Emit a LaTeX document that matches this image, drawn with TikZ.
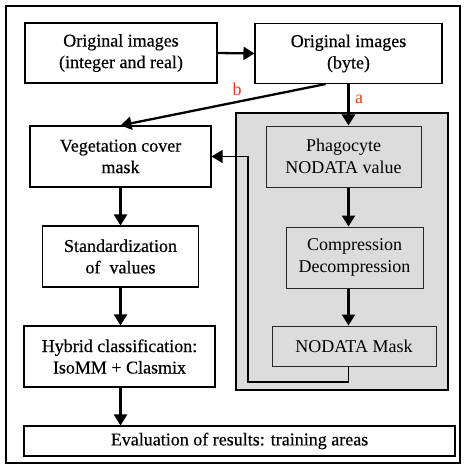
\documentclass[tikz,border=0pt]{standalone}
\usepackage{fontspec}
\setmainfont{Liberation Serif}
\newfontfamily\heavyserif{Liberation Serif}[FakeBold=0.4]
\usetikzlibrary{arrows.meta,calc}
\definecolor{boxgray}{RGB}{220,220,220}
\definecolor{lblred}{RGB}{235,60,25}
\tikzset{
  txt/.style={font=\fontsize{18}{21.5}\selectfont, align=center, inner sep=0pt},
  wbox/.style={txt, font=\heavyserif\fontsize{18}{21.5}\selectfont, draw=black, line width=1.1pt, fill=white},
  gbox/.style={txt, draw=black!85, line width=1pt, fill=boxgray, text=black},
  flow/.style={line width=2.3pt, -{Triangle[width=13pt,length=11pt]}},
  lbl/.style={font=\fontsize{18}{20}\selectfont, text=lblred, inner sep=0pt}
}
\begin{document}
\begin{tikzpicture}[x=1pt,y=-1pt]
\useasboundingbox (0,0) rectangle (465,468);
% outer frame
\draw[line width=1.8pt] (6,6) rectangle (460,463);
% gray panel
\draw[line width=1.8pt, fill=boxgray] (236,113) rectangle (448,390);
% nodes
\node[wbox, minimum width=192pt, minimum height=60pt] (orig) at (121,53) {Original images\\(integer and real)};
\node[wbox, minimum width=187pt, minimum height=60pt] (byte) at (348.5,53.5) {Original images\\(byte)};
\node[wbox, minimum width=181pt, minimum height=61pt] (veg) at (120.5,156.5) {Vegetation cover\\mask};
\node[wbox, minimum width=156pt, minimum height=61pt] (std) at (120.5,256.5) {Standardization\\of~ values};
\node[wbox, minimum width=191pt, minimum height=61pt] (hyb) at (119.5,356.5) {Hybrid classification:\\IsoMM + Clasmix};
\node[wbox, minimum width=431pt, minimum height=30pt] (eval) at (239.5,441) {Evaluation of results: training areas};
\node[gbox, minimum width=155pt, minimum height=61pt] (phago) at (343.5,156.5) {Phagocyte\\NODATA value};
\node[gbox, minimum width=137pt, minimum height=61pt] (comp) at (354.5,257.5) {Compression\\Decompression};
\node[gbox, minimum width=164pt, minimum height=40pt] (mask) at (354,346) {NODATA Mask};
% connectors
\draw[flow] (orig.east) -- (byte.west);
\draw[flow] (byte.south) -- (byte.south |- phago.north);
\draw[flow] (phago.south -| byte.south) -- (comp.north -| byte.south);
\draw[flow] (comp.south -| byte.south) -- (mask.north -| byte.south);
\coordinate (bstart) at ($(byte.south west)!0.378!(byte.south east)$);
\draw[flow] (bstart) -- (veg.north);
\draw[flow] (veg.south) -- (std.north);
\draw[flow] (std.south) -- (std.south |- hyb.north);
\draw[flow] (hyb.south -| veg.south) -- (eval.north -| veg.south);
\coordinate (fb0) at (mask.south -| byte.south);
\coordinate (fb1) at (348.5,382);
\coordinate (fb2) at (248,382);
\coordinate (fb3) at (248,156.5);
\draw[line width=1.3pt, -{Triangle[width=13pt,length=11pt]}] (fb0) -- (fb1) -- (fb2) -- (fb3) -- (veg.east);
% labels
\node[lbl] (la) at (359,99) {a};
\node[lbl] (lb) at (237,89) {b};
\end{tikzpicture}
\end{document}
